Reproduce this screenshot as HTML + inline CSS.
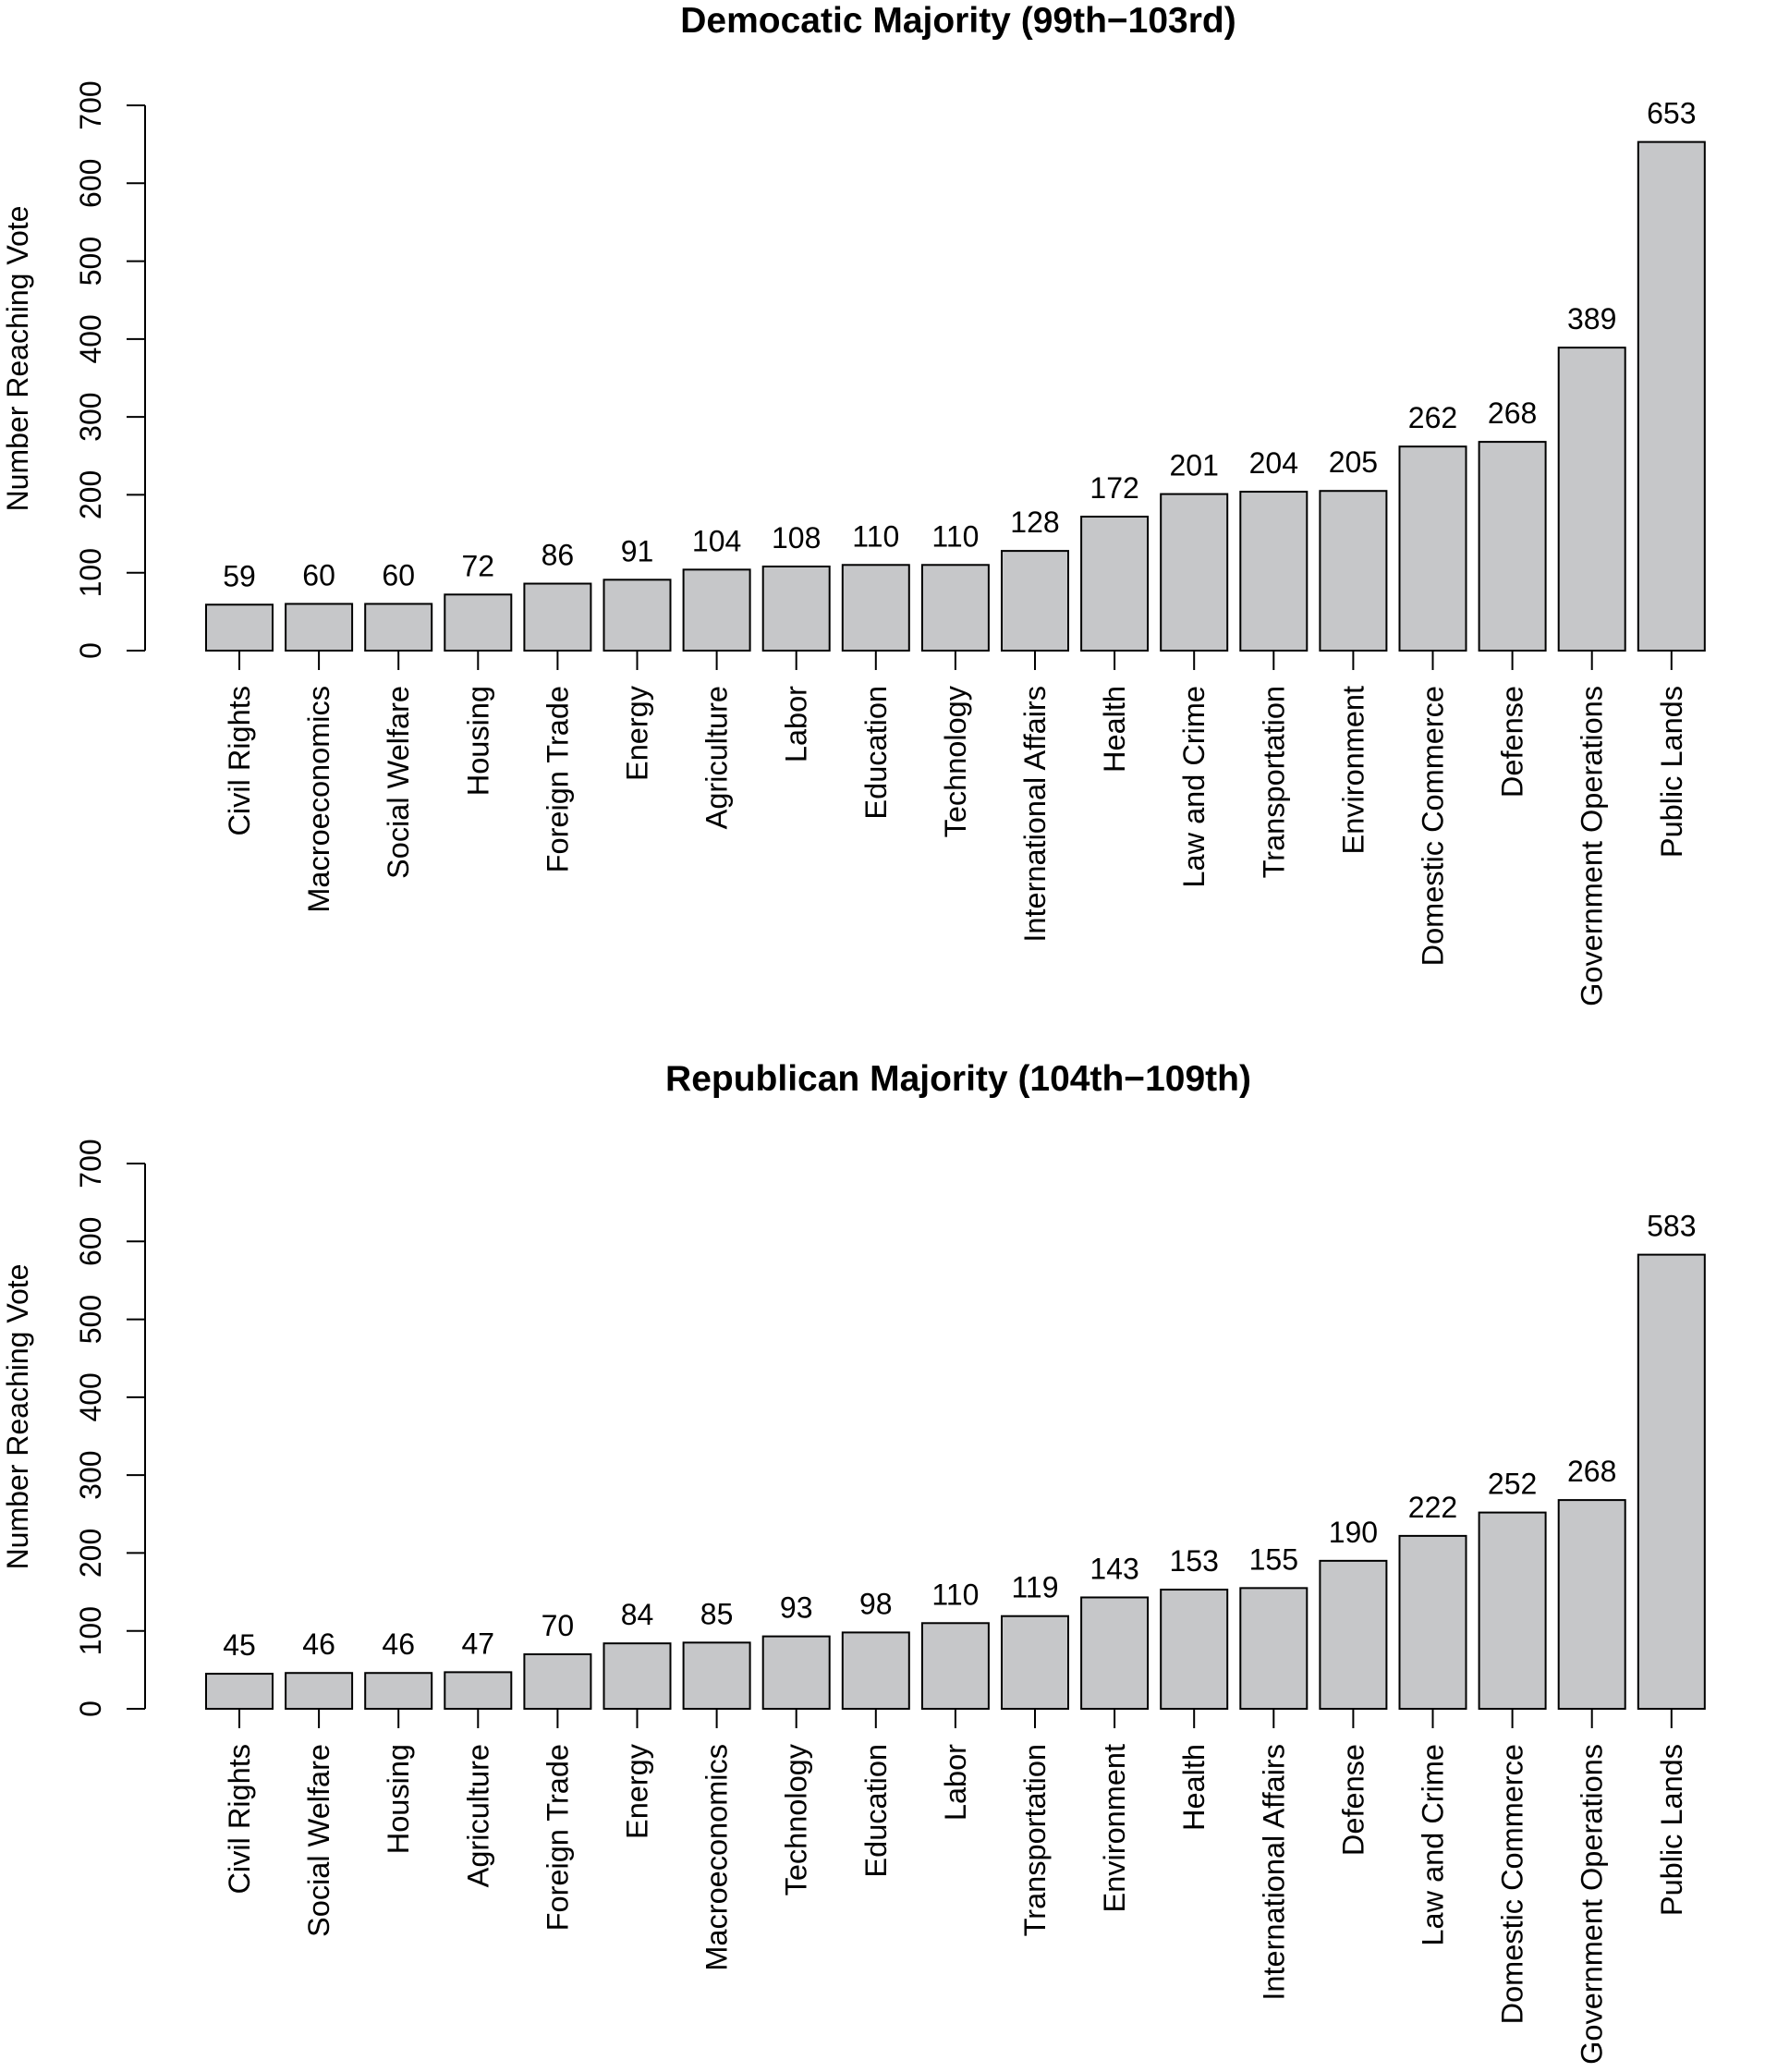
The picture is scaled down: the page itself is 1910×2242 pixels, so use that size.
<!DOCTYPE html>
<html><head><meta charset="utf-8"><style>
html,body{margin:0;padding:0;background:#fff;}
svg{display:block;font-family:"Liberation Sans",Arial,sans-serif;}
</style></head>
<body>
<svg id="chart" width="1910" height="2242" viewBox="0 0 1910 2242" xmlns="http://www.w3.org/2000/svg"></svg>
<script>
const demCategories = ["Civil Rights","Macroeconomics","Social Welfare","Housing","Foreign Trade","Energy","Agriculture","Labor","Education","Technology","International Affairs","Health","Law and Crime","Transportation","Environment","Domestic Commerce","Defense","Government Operations","Public Lands"];
const demValues = [59,60,60,72,86,91,104,108,110,110,128,172,201,204,205,262,268,389,653];
const repCategories = ["Civil Rights","Social Welfare","Housing","Agriculture","Foreign Trade","Energy","Macroeconomics","Technology","Education","Labor","Transportation","Environment","Health","International Affairs","Defense","Law and Crime","Domestic Commerce","Government Operations","Public Lands"];
const repValues = [45,46,46,47,70,84,85,93,98,110,119,143,153,155,190,222,252,268,583];
const yTicks = [0,100,200,300,400,500,600,700];
const demTitle = "Democatic Majority (99th\u2212103rd)";
const repTitle = "Republican Majority (104th\u2212109th)";

const svg = document.getElementById('chart');
const NS = "http://www.w3.org/2000/svg";
function mk(tag, attrs, parent){
  const e = document.createElementNS(NS, tag);
  for (const k in attrs) e.setAttribute(k, attrs[k]);
  (parent||svg).appendChild(e);
  return e;
}
function drawPanel(off, title, cats, vals, prefix){
  const g = mk('g', {});
  
  
  const y0 = 704 + off, pxPer = 590 / 700;
  const yScale = v => y0 - v * pxPer;
  const left0 = 223, pitch = 86.1, bw = 72;
  const xScale = i => left0 + i * pitch;
  const t = mk('text', {x:1037, y:35+off, 'text-anchor':'middle', 'font-size':39, 'font-weight':'bold'}, g);
  t.textContent = title;
  
  
  const yt = mk('text', {transform:`translate(30,${388+off}) rotate(-90)`, 'text-anchor':'middle', 'font-size':32}, g);
  yt.textContent = "Number Reaching Vote";
  
  
  const ax = mk('line', {x1:157, x2:157, y1:yScale(yTicks[0]), y2:yScale(yTicks[yTicks.length-1]), stroke:'#000', 'stroke-width':2}, g);
  
  
  yTicks.forEach(v => {
    const y = yScale(v);
    const tk = mk('line', {x1:137, x2:157, y1:y, y2:y, stroke:'#000', 'stroke-width':2}, g);
    
    
    const tl = mk('text', {transform:`translate(109,${y}) rotate(-90)`, 'text-anchor':'middle', 'font-size':32}, g);
    tl.textContent = v;
    
    
  });
  vals.forEach((v, i) => {
    const x = xScale(i), cx = x + bw/2, top = yScale(v);
    const r = mk('rect', {x:x, y:top, width:bw, height:y0-top, fill:'#c6c7c9', stroke:'#000', 'stroke-width':2}, g);
    
    
    const vl = mk('text', {x:cx, y:top-20, 'text-anchor':'middle', 'font-size':32}, g);
    vl.textContent = v;
    
    
    const tk = mk('line', {x1:cx, x2:cx, y1:y0, y2:y0+21, stroke:'#000', 'stroke-width':2}, g);
    
    
    const cl = mk('text', {transform:`translate(${cx+11},${y0+38}) rotate(-90)`, 'text-anchor':'end', 'font-size':32.5}, g);
    cl.textContent = cats[i];
    
    
  });
}
drawPanel(0, demTitle, demCategories, demValues, 'democratic');
drawPanel(1145, repTitle, repCategories, repValues, 'republican');
</script>
</body></html>
